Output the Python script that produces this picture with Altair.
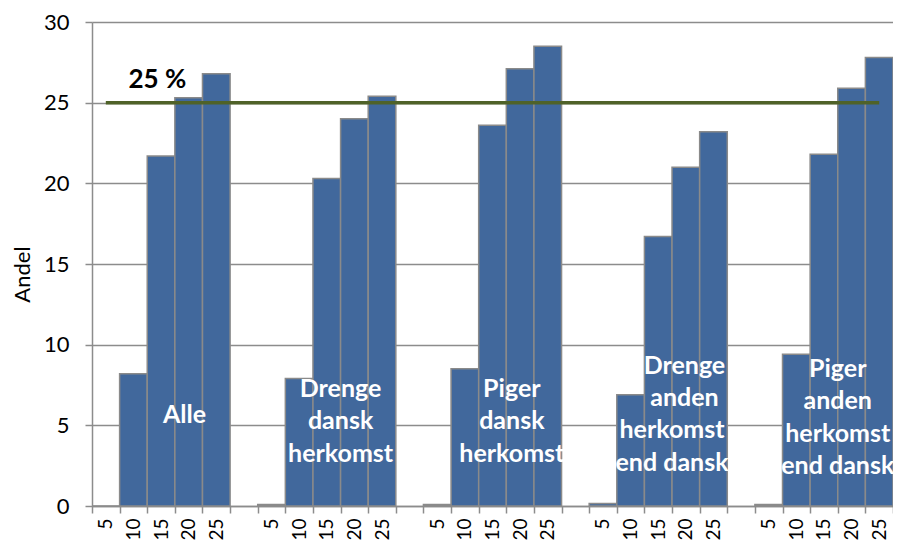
import json
import altair as alt
import pandas as pd

# ---------------- data ----------------
groups = [
    "Alle",
    "Drenge dansk herkomst",
    "Piger dansk herkomst",
    "Drenge anden herkomst end dansk",
    "Piger anden herkomst end dansk",
]
ages = ["5", "10", "15", "20", "25"]
alle = [0.0, 8.2, 21.7, 25.3, 26.8]
drenge_dansk = [0.1, 7.9, 20.3, 24.0, 25.4]
piger_dansk = [0.1, 8.5, 23.6, 27.1, 28.5]
drenge_anden = [0.15, 6.9, 16.7, 21.0, 23.2]
piger_anden = [0.1, 9.4, 21.8, 25.9, 27.8]
series = [alle, drenge_dansk, piger_dansk, drenge_anden, piger_anden]

# in-bar group labels (as wrapped in the original), with the group they belong to
label_group = [0, 1, 2, 3, 3, 4]
label_text = [
    "Alle",
    "Drenge\ndansk\nherkomst",
    "Piger\ndansk\nherkomst",
    "Drenge\nanden",
    "herkomst\nend dansk",
    "Piger\nanden\nherkomst\nend dansk",
]
label_first_line_values = [5.62, 7.28, 7.28, 8.7, 4.69, 8.52]
# layout-only: horizontal anchor of each label within its group's "20" slot
label_band_pos = [0.35, 0.0, 0.2, 0.45, 0.0, 0.0]

threshold = 25
threshold_label = "25 %"
threshold_label_value = 26.4
y_ticks = [0, 5, 10, 15, 20, 25, 30]

# ---------------- tables ----------------
n_slots = len(groups) * 6 - 1
slot_labels = []
for g in range(len(groups)):
    slot_labels += ages
    if g < len(groups) - 1:
        slot_labels.append("")

bar_rows = []
for g, vals in enumerate(series):
    for a, v in enumerate(vals):
        bar_rows.append({"slot": g * 6 + a, "value": v, "group": groups[g], "age": ages[a]})
bars_df = pd.DataFrame(bar_rows)

rule_df = pd.DataFrame({"slot": [0], "slot2": [n_slots - 1], "value": [threshold]})
thr_text_df = pd.DataFrame({"slot": [1], "value": [threshold_label_value], "text": [threshold_label]})

FONT = "Lato"
GRAY = "#8C8C8C"
label_expr = json.dumps(slot_labels) + "[datum.value]"

x_scale = alt.Scale(domain=list(range(n_slots)), paddingInner=0, paddingOuter=0)
x_axis = alt.Axis(
    title=None,
    labelExpr=label_expr,
    labelAngle=270,
    tickBand="extent",
    tickSize=7,
    tickColor=GRAY,
    tickWidth=1.5,
    domainColor=GRAY,
    domainWidth=1.5,
    labelFontSize=19,
    labelPadding=5,
    labelColor="#000000",
    labelFont=FONT,
    grid=False,
)
y_scale = alt.Scale(domain=[0, 30], nice=False, zero=True)
y_axis = alt.Axis(
    title="Andel",
    values=y_ticks,
    grid=True,
    gridColor=GRAY,
    gridWidth=1.5,
    domainColor=GRAY,
    domainWidth=1.5,
    tickColor=GRAY,
    tickWidth=1.5,
    tickSize=7,
    labelFontSize=22,
    labelPadding=16,
    labelColor="#000000",
    labelFont=FONT,
    titleFont=FONT,
    titleFontSize=22,
    titleFontWeight="normal",
    titleColor="#000000",
    titleX=-70,
    titleY=252,
    titleAngle=270,
    titleAlign="center",
    titleBaseline="middle",
)

bars = alt.Chart(bars_df).mark_bar(
    fill="#41689C", stroke="#8A8A8A", strokeWidth=1.5
).encode(
    x=alt.X("slot:O", scale=x_scale, axis=x_axis),
    y=alt.Y("value:Q", scale=y_scale, axis=y_axis),
)

rule = alt.Chart(rule_df).mark_rule(color="#4F6228", strokeWidth=3.5).encode(
    x=alt.X("slot:O"),
    x2=alt.X2("slot2"),
    y=alt.Y("value:Q"),
)

thr_text = alt.Chart(thr_text_df).mark_text(
    font=FONT, fontSize=26, fontWeight="bold", color="#000000",
    align="left", baseline="middle", dx=-5,
).encode(
    x=alt.X("slot:O"),
    y=alt.Y("value:Q"),
    text="text:N",
)

layers = [bars, rule, thr_text]
for i, txt in enumerate(label_text):
    g = label_group[i]
    df = pd.DataFrame({
        "slot": [g * 6 + 3],
        "value": [label_first_line_values[i]],
        "text": [txt],
    })
    layers.append(
        alt.Chart(df).mark_text(
            font=FONT, fontSize=25, fontWeight="bold", color="#FFFFFF",
            align="center", baseline="middle", lineBreak="\n", lineHeight=32.5,
        ).encode(
            x=alt.X("slot:O", bandPosition=label_band_pos[i]),
            y=alt.Y("value:Q"),
            text="text:N",
        )
    )

chart = alt.layer(*layers).properties(
    width=801,
    height=484,
    padding={"left": 84, "top": 14, "right": 0, "bottom": 34},
    autosize=alt.AutoSizeParams(type="none"),
).configure_view(stroke=None)

chart.save("out.html", embed_options={"renderer": "svg", "actions": False})
